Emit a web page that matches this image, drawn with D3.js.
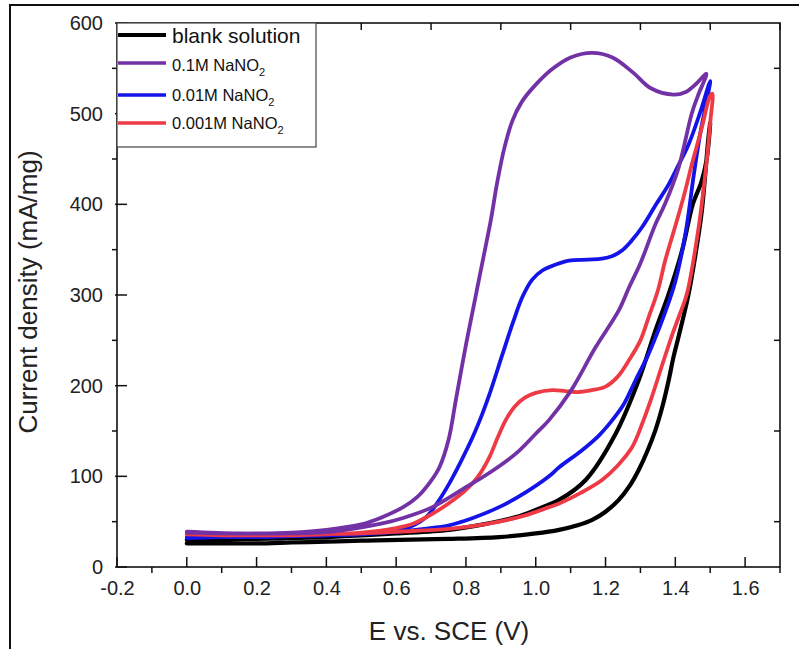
<!DOCTYPE html>
<html>
<head>
<meta charset="utf-8">
<script src="https://cdn.jsdelivr.net/npm/d3@7"></script>
<style>
  html, body { margin: 0; padding: 0; background: #fff; }
  svg { display: block; font-family: "Liberation Sans", Arial, sans-serif; }
</style>
</head>
<body>
<svg id="chart" width="799" height="649"></svg>
<script>
// Cyclic voltammograms: potential (V vs. SCE) and current density (mA/mg),
// each loop listed as anodic sweep followed by the return sweep.
const blankE = [0, 0.1, 0.2, 0.3, 0.4, 0.5, 0.61, 0.75, 0.895, 1.0, 1.067, 1.12, 1.162, 1.2, 1.238, 1.27, 1.295, 1.32, 1.343, 1.363, 1.381, 1.395, 1.41, 1.438, 1.46, 1.476, 1.495, 1.5,
                1.49, 1.475, 1.45, 1.42, 1.38, 1.343, 1.295, 1.229, 1.143, 1.067, 1.0, 0.943, 0.85, 0.752, 0.6, 0.514, 0.4, 0.2, 0];
const blankJ = [26, 26, 26, 27, 28, 29, 30, 31, 33, 37, 41, 46, 52, 61, 74, 90, 107, 128, 151, 177, 206, 232, 255, 301, 350, 393, 474, 490,
                450, 425, 400, 350, 300, 261, 206, 147, 96, 74, 63, 55, 47, 41, 37, 35, 33, 31, 30];

const purpleE = [0, 0.1, 0.2, 0.3, 0.4, 0.5, 0.56, 0.62, 0.66, 0.7, 0.724, 0.75, 0.771, 0.8, 0.83, 0.855, 0.871, 0.89, 0.91, 0.933, 0.96, 1.0, 1.05, 1.1, 1.161, 1.22, 1.28, 1.33, 1.395, 1.43, 1.46, 1.489,
                 1.465, 1.447, 1.409, 1.37, 1.343, 1.3, 1.267, 1.238, 1.171, 1.1, 1.038, 1.0, 0.943, 0.86, 0.8, 0.704, 0.62, 0.56, 0.418, 0.3, 0.15, 0];
const purpleJ = [38, 37, 37, 38, 41, 47, 55, 66, 77, 95, 110, 140, 184, 245, 303, 351, 382, 425, 462, 492, 513, 532, 550, 562, 567, 562, 545, 528, 521, 524, 533, 544,
                 520, 500, 440, 400, 378, 335, 308, 283, 242, 194, 162, 147, 125, 102, 88, 66, 54, 48, 39, 37, 37, 39];

const midE = [0, 0.1, 0.2, 0.3, 0.4, 0.5, 0.6, 0.65, 0.686, 0.72, 0.752, 0.785, 0.819, 0.848, 0.867, 0.905, 0.935, 0.962, 0.99, 1.019, 1.06, 1.095, 1.15, 1.19, 1.22, 1.247, 1.275, 1.305, 1.345, 1.381, 1.41, 1.438, 1.47, 1.5,
              1.485, 1.47, 1.452, 1.43, 1.4, 1.37, 1.345, 1.32, 1.286, 1.25, 1.209, 1.181, 1.13, 1.067, 1.038, 0.97, 0.895, 0.82, 0.752, 0.68, 0.61, 0.5, 0.3, 0.1, 0];
const midJ = [33, 33, 33, 34, 35, 37, 41, 46, 55, 72, 92, 116, 143, 170, 190, 235, 270, 298, 317, 327, 334, 338, 339, 340, 343, 349, 360, 375, 400, 422, 444, 466, 500, 536,
              505, 475, 430, 370, 315, 280, 255, 232, 206, 178, 157, 145, 128, 110, 100, 82, 66, 54, 46, 42, 39, 36, 34, 33, 32];

const lowE = [0, 0.1, 0.2, 0.3, 0.4, 0.5, 0.6, 0.65, 0.705, 0.75, 0.8, 0.835, 0.867, 0.89, 0.914, 0.94, 0.97, 1.0, 1.047, 1.085, 1.124, 1.16, 1.2, 1.235, 1.267, 1.3, 1.324, 1.35, 1.371, 1.4, 1.425, 1.448, 1.475, 1.5, 1.506,
              1.5, 1.49, 1.467, 1.433, 1.41, 1.39, 1.36, 1.333, 1.305, 1.276, 1.235, 1.19, 1.13, 1.067, 1.038, 0.97, 0.895, 0.82, 0.752, 0.61, 0.5, 0.3, 0.1, 0];
const lowJ = [36, 35, 35, 35, 36, 38, 43, 48, 59, 70, 85, 100, 121, 142, 162, 177, 187, 192, 195, 194, 193, 195, 199, 210, 228, 250, 276, 305, 338, 376, 410, 445, 483, 520, 522,
              490, 448, 375, 301, 276, 255, 220, 188, 158, 132, 112, 96, 82, 70, 66, 57, 50, 45, 42, 39, 37, 36, 36, 37];

const seriesNames = ["blank solution", "0.1M NaNO", "0.01M NaNO", "0.001M NaNO"];
const seriesSubs = ["", "2", "2", "2"];
const seriesColors = ["#000000", "#7232a6", "#1414e8", "#ee3a45"];

const xTicks = [-0.2, 0, 0.2, 0.4, 0.6, 0.8, 1.0, 1.2, 1.4, 1.6];
const xMinor = [-0.1, 0.1, 0.3, 0.5, 0.7, 0.9, 1.1, 1.3, 1.5, 1.7];
const yTicks = [0, 100, 200, 300, 400, 500, 600];
const yMinor = [50, 150, 250, 350, 450, 550];

const svg = d3.select("#chart");
const plotL = 117, plotR = 780, plotT = 23, plotB = 567;

const x = d3.scaleLinear().domain([-0.2, 1.7]).range([plotL, plotR]);
const y = d3.scaleLinear().domain([0, 600]).range([plotB, plotT]);

// outer figure frame (top and left edges)
svg.append("path").attr("d", "M10,649 L10,5 L799,5")
  .attr("fill", "none").attr("stroke", "#111").attr("stroke-width", 2);

// curves
const toPts = (E, J) => E.map((e, i) => [e, J[i]]);
const curves = [toPts(blankE, blankJ), toPts(purpleE, purpleJ), toPts(midE, midJ), toPts(lowE, lowJ)];
const line = d3.line().x(d => x(d[0])).y(d => y(d[1])).curve(d3.curveCatmullRom.alpha(0.5));
const drawOrder = [0, 2, 3, 1];
const plot = svg.append("g");
drawOrder.forEach(i => {
  plot.append("path").datum(curves[i]).attr("d", line)
    .attr("fill", "none").attr("stroke", seriesColors[i])
    .attr("stroke-width", i === 0 ? 4.2 : 3.8)
    .attr("stroke-linejoin", "round").attr("stroke-linecap", "round");
});

// axes
const axisCol = "#111";
const fmt = d3.format(".1f");
const bottomAxis = d3.axisBottom(x).tickValues(xTicks).tickSize(0).tickPadding(14)
  .tickFormat(d => fmt(d).replace("\u2212", "-"));
const gx = svg.append("g").attr("transform", `translate(0,${plotB})`).call(bottomAxis);
gx.select(".domain").remove();
gx.selectAll("text").attr("font-size", 20).attr("fill", "#222")
  .attr("font-family", "'Liberation Sans', Arial, sans-serif");

const leftAxis = d3.axisLeft(y).tickValues(yTicks).tickSize(0).tickPadding(14);
const gy = svg.append("g").attr("transform", `translate(${plotL},0)`).call(leftAxis);
gy.select(".domain").remove();
gy.selectAll("text").attr("font-size", 20).attr("fill", "#222")
  .attr("font-family", "'Liberation Sans', Arial, sans-serif");

const ticks = svg.append("g").attr("stroke", axisCol).attr("stroke-width", 1.5);
xTicks.forEach(v => ticks.append("line").attr("x1", x(v)).attr("x2", x(v)).attr("y1", plotB).attr("y2", plotB - 10));
xMinor.forEach(v => ticks.append("line").attr("x1", x(v)).attr("x2", x(v)).attr("y1", plotB).attr("y2", plotB + 6));
xMinor.forEach(v => ticks.append("line").attr("x1", x(v)).attr("x2", x(v)).attr("y1", plotT).attr("y2", plotT + 7));
yTicks.forEach(v => ticks.append("line").attr("x1", plotL - 2).attr("x2", plotL + 10).attr("y1", y(v)).attr("y2", y(v)));
yMinor.forEach(v => ticks.append("line").attr("x1", plotL).attr("x2", plotL - 5).attr("y1", y(v)).attr("y2", y(v)));
yMinor.forEach(v => ticks.append("line").attr("x1", plotR).attr("x2", plotR - 6).attr("y1", y(v)).attr("y2", y(v)));

svg.append("rect").attr("x", plotL).attr("y", plotT).attr("width", plotR - plotL).attr("height", plotB - plotT)
  .attr("fill", "none").attr("stroke", axisCol).attr("stroke-width", 1.6);

// axis titles
svg.append("text").attr("x", 449).attr("y", 640).attr("text-anchor", "middle")
  .attr("font-size", 26).attr("fill", "#222").text("E vs. SCE (V)");
svg.append("text").attr("transform", "translate(37,292) rotate(-90)").attr("text-anchor", "middle")
  .attr("font-size", 26).attr("fill", "#222").text("Current density (mA/mg)");

// legend
const lg = svg.append("g");
lg.append("rect").attr("x", plotL).attr("y", plotT).attr("width", 199).attr("height", 124)
  .attr("fill", "#fff").attr("stroke", "#444").attr("stroke-width", 1.2);
const rowY = [35, 63, 95, 123];
const baseY = [43, 71, 101, 129];
seriesNames.forEach((name, i) => {
  lg.append("line").attr("x1", plotL + 1).attr("x2", 166).attr("y1", rowY[i]).attr("y2", rowY[i])
    .attr("stroke", seriesColors[i]).attr("stroke-width", i === 0 ? 4 : 3.5);
  const t = lg.append("text").attr("x", 172).attr("y", baseY[i])
    .attr("font-size", i === 0 ? 21 : 16.5).attr("fill", "#111");
  t.append("tspan").text(name);
  if (seriesSubs[i]) t.append("tspan").attr("dy", 5).attr("font-size", 11).text(seriesSubs[i]);
});
</script>
</body>
</html>
